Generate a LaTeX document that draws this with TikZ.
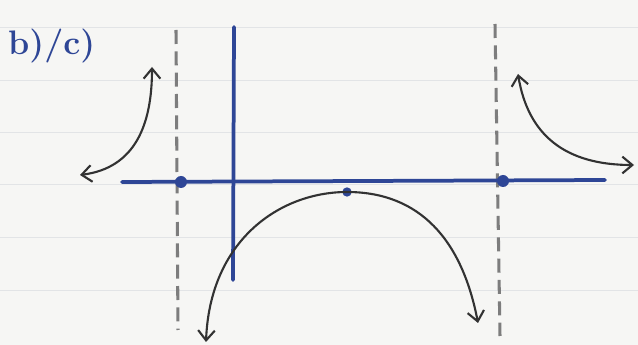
\documentclass[tikz,border=0pt]{standalone}
\usetikzlibrary{arrows.meta}
\definecolor{penblue}{RGB}{46,70,150}
\definecolor{pencil}{RGB}{50,50,50}
\definecolor{dashgray}{RGB}{125,125,125}
\definecolor{paper}{RGB}{246,246,244}
\definecolor{ruling}{RGB}{226,228,230}
\begin{document}
\begin{tikzpicture}[x=0.03cm, y=-0.03cm, >={Straight Barb[length=3mm,width=5mm]}]
	
	% Define styles
	\tikzstyle{axis line} = [draw=penblue, line width=3.2pt, line cap=round]
	\tikzstyle{asymptote} = [draw=dashgray, line width=2.6pt, dash pattern=on 0.42cm off 0.22cm]
	\tikzstyle{branch} = [draw=pencil, line width=1.8pt, line cap=round]
	\tikzstyle{dot node} = [circle, fill=penblue, inner sep=0pt, minimum size=0.36cm]
	\tikzstyle{small dot} = [circle, fill=penblue, inner sep=0pt, minimum size=0.28cm]
	
	% Paper
	\fill[paper] (0,0) rectangle (638,345);
	\useasboundingbox (0,0) rectangle (638,345);
	\foreach \y in {27, 80, 132, 184, 237, 290}
	\draw[ruling, line width=0.8pt] (0,\y) -- (638,\y);
	
	% Label
	\node[text=penblue, anchor=west, inner sep=0pt, font=\fontsize{29}{31}\selectfont\bfseries] (label) at (8,46) {b)/c)};
	
	% Asymptotes
	\coordinate (asymL top) at (176,30);
	\coordinate (asymL bot) at (178,330);
	\coordinate (asymR top) at (495,24);
	\coordinate (asymR bot) at (500,336);
	\path[asymptote] (asymL top) -- (asymL bot);
	\path[asymptote] (asymR top) -- (asymR bot);
	
	% Axes
	\coordinate (xaxis left) at (122,182);
	\coordinate (xaxis right) at (605,180);
	\coordinate (yaxis top) at (234,27);
	\coordinate (yaxis bot) at (233,280);
	\path[axis line] (xaxis left) -- (xaxis right);
	\path[axis line] (yaxis top) -- (yaxis bot);
	
	% Intercepts and vertex
	\node[dot node] (zeroL) at (181,182) {};
	\node[dot node] (zeroR) at (503,181) {};
	\node[small dot] (vertex) at (347,192) {};
	
	% Branch ends
	\coordinate (left out) at (80,175);
	\coordinate (left up) at (152,67);
	\coordinate (mid left) at (206,342);
	\coordinate (mid right) at (478,323);
	\coordinate (right up) at (518,74);
	\coordinate (right out) at (634,165);
	
	% Draw branches
	\path[branch, <->] (left out) .. controls (135,168) and (152,125) .. (left up);
	\path[branch, <->] (mid left) .. controls (210,240) and (280,192) .. (vertex.center)
		.. controls (420,192) and (462,240) .. (mid right);
	\path[branch, <->] (right up) .. controls (528,135) and (565,165) .. (right out);
	
\end{tikzpicture}
\end{document}
